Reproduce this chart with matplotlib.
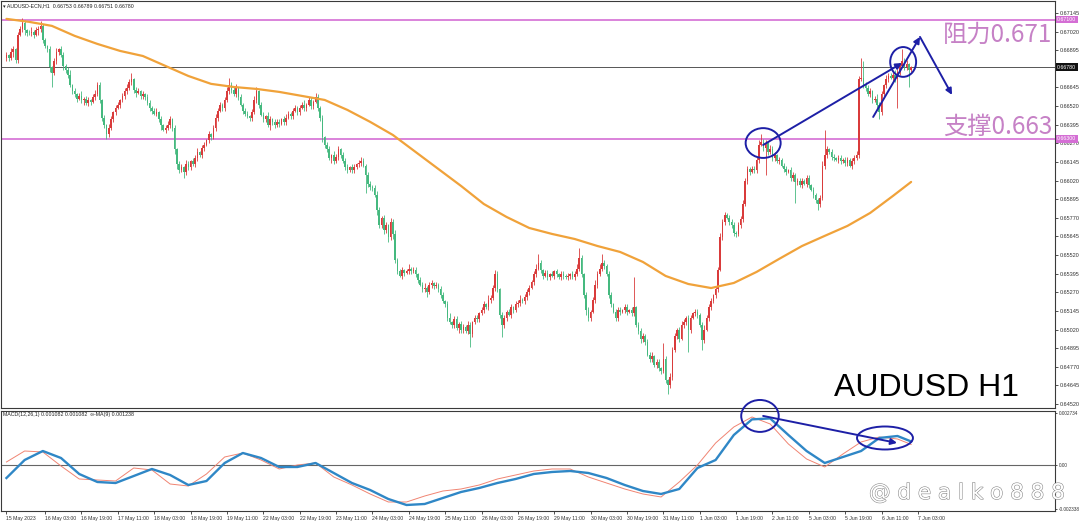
import matplotlib
matplotlib.use("Agg")
import matplotlib.pyplot as plt
from matplotlib.patches import Ellipse
import matplotlib.patheffects as pe
import matplotlib.transforms as mtransforms
import numpy as np

W, H = 1081, 527

# ---------------- data (price in pips, 1e-4) ----------------
first_open = 6684
closes_pips = [
    6686, 6684, 6688, 6690, 6683, 6700, 6704, 6708, 6703, 6701,
    6701, 6702, 6700, 6703, 6704, 6706, 6696, 6692, 6690, 6678,
    6674, 6682, 6688, 6690, 6686, 6679, 6676, 6673, 6666, 6662,
    6660, 6657, 6659, 6656, 6657, 6654, 6656, 6655, 6658, 6660,
    6666, 6656, 6644, 6639, 6633, 6637, 6643, 6648, 6651, 6653,
    6656, 6659, 6662, 6664, 6668, 6670, 6663, 6661, 6662, 6659,
    6660, 6658, 6654, 6651, 6649, 6647, 6648, 6643, 6639, 6636,
    6637, 6639, 6643, 6637, 6623, 6613, 6609, 6611, 6608, 6613,
    6611, 6615, 6613, 6617, 6621, 6619, 6624, 6626, 6629, 6633,
    6631, 6637, 6644, 6649, 6653, 6651, 6656, 6662, 6666, 6663,
    6660, 6664, 6658, 6653, 6649, 6647, 6645, 6644, 6648, 6656,
    6662, 6653, 6646, 6643, 6645, 6639, 6643, 6641, 6639, 6641,
    6640, 6643, 6641, 6644, 6647, 6645, 6649, 6651, 6648, 6651,
    6653, 6651, 6653, 6656, 6652, 6655, 6658, 6651, 6644, 6631,
    6626, 6623, 6617, 6619, 6615, 6618, 6623, 6619, 6615, 6611,
    6609, 6611, 6609, 6611, 6613, 6614, 6615, 6612, 6606, 6600,
    6598, 6597, 6592, 6582, 6572, 6577, 6569, 6572, 6564, 6574,
    6566, 6549, 6541, 6538, 6542, 6540, 6541, 6543, 6541, 6542,
    6539, 6535, 6532, 6529, 6530, 6527, 6532, 6533, 6531, 6532,
    6529, 6525, 6521, 6519, 6510, 6507, 6505, 6509, 6503, 6506,
    6502, 6504, 6501, 6505, 6499, 6507, 6510, 6509, 6513, 6515,
    6519, 6517, 6522, 6523, 6530, 6539, 6529, 6512, 6505, 6510,
    6514, 6512, 6517, 6515, 6519, 6520, 6522, 6521, 6524, 6527,
    6530, 6534, 6539, 6543, 6547, 6542, 6538, 6540, 6537, 6539,
    6538, 6541, 6539, 6537, 6539, 6538, 6537, 6538, 6539, 6537,
    6539, 6543, 6550, 6539, 6525, 6515, 6510, 6514, 6522, 6532,
    6539, 6543, 6547, 6545, 6539, 6525, 6519, 6514, 6510, 6515,
    6514, 6515, 6517, 6514, 6515, 6513, 6517, 6505, 6501, 6496,
    6498, 6494, 6485, 6482, 6484, 6478, 6480, 6476, 6474, 6482,
    6468, 6465, 6470, 6488, 6498, 6502, 6496, 6505, 6507, 6510,
    6502, 6510, 6513, 6514, 6512, 6505, 6495, 6502, 6510, 6517,
    6521, 6525, 6529, 6542, 6564, 6574, 6579, 6577, 6574, 6572,
    6567, 6566, 6572, 6576, 6586, 6602, 6610, 6608, 6610, 6609,
    6616, 6626, 6628, 6624, 6627, 6621, 6623, 6617, 6619, 6615,
    6616, 6612, 6610, 6608, 6609, 6604, 6606, 6601, 6602, 6599,
    6602, 6600, 6604, 6599, 6596, 6592, 6589, 6586, 6590, 6612,
    6619, 6623, 6621, 6618, 6617, 6616, 6617, 6615, 6616, 6614,
    6616, 6612, 6615, 6617, 6619, 6670, 6671, 6666, 6664, 6660,
    6662, 6656, 6657, 6653, 6648, 6660, 6666, 6670, 6672, 6671,
    6673, 6670, 6675, 6679, 6682, 6678, 6680, 6676, 6678,
]
upper_wick_pips = [
    2, 1, 3, 2, 1, 2, 2, 3, 2, 1,
    2, 3, 1, 2, 2, 3, 1, 2, 1, 2,
    1, 2, 3, 1, 2, 2, 1, 2, 3, 1,
    2, 1, 2, 3, 1, 2, 2, 1, 2, 3,
    2, 2, 1, 2, 1, 3, 2, 1, 2, 2,
    1, 2, 2, 3, 2, 4, 1, 2, 2, 1,
    2, 1, 2, 2, 1, 2, 3, 1, 2, 1,
    2, 3, 2, 1, 2, 1, 2, 2, 1, 3,
    2, 1, 2, 2, 3, 1, 2, 2, 1, 2,
    1, 2, 3, 2, 2, 1, 2, 3, 5, 2,
    2, 3, 1, 2, 1, 2, 2, 1, 2, 3,
    3, 1, 2, 2, 1, 3, 2, 1, 2, 2,
    2, 1, 2, 3, 2, 1, 2, 2, 1, 2,
    2, 3, 1, 2, 2, 1, 3, 2, 1, 2,
    1, 2, 2, 1, 3, 2, 2, 1, 2, 2,
    2, 1, 2, 2, 1, 2, 3, 2, 1, 2,
    2, 1, 2, 3, 2, 1, 2, 2, 1, 3,
    2, 3, 1, 2, 2, 1, 2, 3, 1, 2,
    2, 1, 2, 2, 3, 1, 2, 2, 1, 2,
    1, 2, 2, 1, 2, 3, 1, 2, 2, 1,
    2, 2, 1, 3, 2, 1, 2, 2, 1, 2,
    2, 1, 3, 2, 2, 3, 2, 1, 2, 2,
    1, 2, 2, 1, 2, 2, 3, 1, 2, 2,
    2, 1, 2, 3, 6, 2, 1, 2, 2, 1,
    2, 1, 2, 1, 2, 2, 1, 2, 1, 2,
    2, 3, 7, 2, 1, 2, 2, 1, 2, 3,
    2, 3, 6, 2, 1, 2, 2, 1, 2, 2,
    2, 1, 2, 2, 1, 2, 20, 1, 2, 2,
    2, 1, 2, 2, 3, 1, 2, 2, 1, 11,
    2, 1, 3, 2, 2, 1, 2, 3, 2, 1,
    2, 2, 1, 2, 2, 1, 2, 3, 2, 2,
    2, 1, 2, 2, 3, 2, 2, 1, 2, 2,
    2, 1, 2, 2, 3, 2, 2, 1, 2, 2,
    2, 3, 5, 2, 2, 1, 3, 2, 2, 1,
    2, 1, 2, 2, 1, 2, 2, 1, 2, 2,
    2, 1, 2, 2, 1, 2, 2, 1, 2, 3,
    17, 2, 1, 2, 2, 1, 2, 2, 1, 2,
    2, 1, 2, 2, 3, 2, 13, 11, 2, 2,
    2, 1, 2, 3, 2, 2, 1, 3, 2, 2,
    2, 3, 2, 2, 8, 2, 3, 1, 1,
]
lower_wick_pips = [
    2, 2, 1, 3, 2, 2, 1, 2, 3, 2,
    1, 2, 2, 1, 3, 2, 2, 1, 2, 3,
    9, 1, 2, 2, 1, 3, 2, 2, 1, 2,
    2, 2, 1, 2, 3, 1, 2, 2, 1, 2,
    1, 2, 2, 2, 3, 2, 1, 2, 2, 1,
    2, 1, 2, 2, 1, 2, 2, 3, 1, 2,
    2, 2, 1, 2, 2, 1, 2, 2, 3, 1,
    2, 1, 2, 2, 3, 3, 2, 1, 4, 2,
    2, 2, 1, 2, 2, 1, 2, 2, 1, 2,
    2, 1, 2, 2, 1, 2, 2, 1, 2, 2,
    1, 2, 2, 1, 2, 2, 1, 2, 2, 1,
    2, 2, 1, 2, 2, 1, 3, 2, 2, 1,
    2, 1, 2, 2, 1, 2, 2, 1, 2, 2,
    1, 2, 2, 1, 2, 2, 1, 2, 2, 3,
    2, 2, 1, 3, 2, 1, 2, 2, 1, 2,
    2, 1, 2, 2, 1, 2, 2, 1, 12, 2,
    2, 2, 1, 3, 2, 2, 3, 2, 3, 2,
    3, 2, 2, 1, 2, 2, 1, 2, 2, 1,
    2, 2, 1, 2, 2, 3, 1, 2, 2, 1,
    2, 2, 1, 2, 2, 1, 2, 2, 1, 3,
    2, 2, 1, 2, 9, 2, 1, 2, 2, 1,
    2, 1, 2, 2, 1, 2, 2, 2, 8, 2,
    2, 1, 2, 2, 1, 2, 2, 1, 2, 2,
    2, 1, 2, 2, 1, 2, 2, 1, 2, 2,
    1, 2, 2, 1, 2, 2, 1, 2, 2, 1,
    2, 1, 2, 2, 2, 3, 2, 2, 1, 2,
    2, 1, 2, 2, 1, 2, 2, 1, 2, 2,
    2, 1, 2, 2, 1, 2, 2, 1, 2, 3,
    2, 2, 1, 2, 2, 1, 2, 2, 2, 1,
    2, 6, 2, 2, 1, 2, 2, 1, 2, 2,
    15, 2, 1, 2, 2, 1, 7, 2, 1, 2,
    2, 1, 2, 2, 1, 2, 2, 1, 2, 2,
    2, 2, 1, 2, 2, 1, 2, 2, 1, 2,
    2, 2, 1, 2, 18, 2, 1, 2, 2, 1,
    2, 1, 2, 2, 1, 2, 2, 14, 2, 1,
    2, 1, 2, 2, 1, 2, 2, 4, 2, 1,
    2, 2, 1, 2, 2, 1, 2, 2, 1, 2,
    2, 1, 2, 2, 1, 2, 1, 2, 2, 1,
    2, 2, 1, 2, 5, 2, 1, 2, 2, 1,
    2, 2, 19, 2, 1, 2, 2, 11, 1,
]

# moving average (orange), sampled every 10 bars (+ last bar)
ma_idx = list(range(0, 400, 10)) + [398]
ma_pips = [
    6710.5, 6708.5, 6705.8, 6699.1, 6693.7, 6689.0, 6685.6, 6678.9, 6672.2, 6666.9,
    6664.8, 6663.5, 6661.5, 6658.8, 6656.1, 6649.4, 6641.4, 6632.6, 6621.2, 6609.8,
    6598.4, 6586.3, 6577.6, 6570.2, 6566.2, 6562.8, 6558.1, 6554.1, 6547.4, 6538.0,
    6532.6, 6529.9, 6533.3, 6540.7, 6549.5, 6558.1, 6564.9, 6571.6, 6580.3, 6591.7,
    6601.1,
]

# MACD panel (values in 1e-3), sampled every 8 bars (+ last bar)
macd_idx = list(range(0, 393, 8)) + [398]
macd_signal = [
    -0.684, 0.263, 0.736, 0.368, -0.473, -0.894, -0.947, -0.579, -0.210, -0.526,
    -1.052, -0.842, 0.105, 0.631, 0.368, -0.105, -0.105, 0.105, -0.421, -0.947,
    -1.315, -1.788, -2.104, -2.051, -1.736, -1.420, -1.210, -0.947, -0.736, -0.473,
    -0.368, -0.316, -0.421, -0.684, -1.052, -1.368, -1.525, -1.262, -0.158, 0.263,
    1.578, 2.400, 2.450, 1.578, 0.736, 0.105, 0.421, 0.736, 1.420, 1.525,
    1.238,
]
macd_main = [
    0.158, 0.736, 0.684, -0.053, -0.736, -0.789, -0.842, -0.158, -0.263, -1.000,
    -1.105, -0.473, 0.421, 0.631, 0.263, -0.210, 0.000, 0.105, -0.631, -1.052,
    -1.525, -1.946, -1.946, -1.631, -1.368, -1.262, -1.052, -0.736, -0.526, -0.316,
    -0.210, -0.210, -0.631, -0.947, -1.262, -1.525, -1.683, -0.894, 0.000, 1.157,
    1.999, 2.525, 2.157, 1.105, 0.316, -0.105, 0.579, 1.210, 1.473, 1.368,
    1.082,
]

time_labels = ["15 May 2023", "16 May 03:00", "16 May 19:00", "17 May 11:00", "18 May 03:00",
               "18 May 19:00", "19 May 11:00", "22 May 03:00", "22 May 19:00", "23 May 11:00",
               "24 May 03:00", "24 May 19:00", "25 May 11:00", "26 May 03:00", "26 May 19:00",
               "29 May 11:00", "30 May 03:00", "30 May 19:00", "31 May 11:00", "1 Jun 03:00",
               "1 Jun 19:00", "2 Jun 11:00", "5 Jun 03:00", "5 Jun 19:00", "6 Jun 11:00",
               "7 Jun 03:00"]
time_label_bars = [0] + [17 + 16 * k for k in range(25)]

price_ticks = [0.64520, 0.64645, 0.64770, 0.64895, 0.65020, 0.65145, 0.65270, 0.65395,
               0.65520, 0.65645, 0.65770, 0.65895, 0.66020, 0.66145, 0.66270, 0.66395,
               0.66520, 0.66645, 0.66895, 0.67020, 0.67145]
resistance = 0.67100
support = 0.66300
last_price = 0.66780

# ---------------- derived arrays ----------------
c = np.array(closes_pips, dtype=float) / 1e4
o = np.concatenate([[first_open / 1e4], c[:-1]])
hi = np.maximum(o, c) + np.array(upper_wick_pips) / 1e4
lo = np.minimum(o, c) - np.array(lower_wick_pips) / 1e4
x = np.arange(len(c))

RED = "#d93b3b"
GREEN = "#45b97f"
NAVY = "#1d1fa6"
PINK = "#d46ed4"
LABEL_PINK = "#c681c6"

fig = plt.figure(figsize=(W / 100, H / 100), dpi=100)
fig.patch.set_facecolor("white")

def fx(px):
    return px / W

def fy(py):
    return 1 - py / H

left, right = fx(1), fx(1055)
ax = fig.add_axes([left, fy(408), right - left, fy(1) - fy(408)])
ax2 = fig.add_axes([left, fy(511), right - left, fy(411) - fy(511)])

xlim = (-2.4, 461.3)
ax.set_xlim(*xlim)
ax.set_ylim(0.64494, 0.67225)
ax2.set_xlim(*xlim)
ax2.set_ylim(-0.00242, 0.00284)

for a in (ax, ax2):
    a.set_facecolor("white")
    for s in a.spines.values():
        s.set_color("#3a3a3a")
        s.set_linewidth(0.8)

# horizontal levels
ax.axhline(resistance, color=PINK, lw=1.2, zorder=1)
ax.axhline(support, color=PINK, lw=1.2, zorder=1)
ax.axhline(last_price, color="#555555", lw=0.7, zorder=1)

# candles
up = c > o
cols = np.where(up, RED, GREEN)
ax.vlines(x, lo, hi, colors=cols, lw=0.6, zorder=2)
body = np.abs(c - o)
body = np.maximum(body, 0.00003)
ax.bar(x, body, bottom=np.minimum(o, c), width=0.7, color=cols, linewidth=0, zorder=3)

# moving average
ax.plot(ma_idx, np.array(ma_pips) / 1e4, color="#f0a23a", lw=1.6, zorder=4,
        solid_capstyle="round")

# price axis
ax.yaxis.tick_right()
ax.set_yticks(price_ticks)
ax.set_yticklabels([f"{v:.5f}" for v in price_ticks])
ax.tick_params(axis="y", length=2, width=0.6, labelsize=4, pad=1.5, colors="#333333")
ax.set_xticks([])

blend = mtransforms.blended_transform_factory(ax.transAxes, ax.transData)
for val, fc in ((resistance, PINK), (support, PINK), (last_price, "#111111")):
    ax.text(1.002, val, f"{val:.5f}", transform=blend, fontsize=3.8, color="white",
            va="center", ha="left", family="Liberation Sans", clip_on=False, zorder=10,
            bbox=dict(boxstyle="square,pad=0.25", fc=fc, ec="none"))

# MACD
ax2.axhline(0, color="#666666", lw=0.8, zorder=1)
ax2.plot(macd_idx, np.array(macd_signal) / 1e3, color="#2f87c6", lw=1.7, zorder=3)
ax2.plot(macd_idx, np.array(macd_main) / 1e3, color="#f08472", lw=0.7, zorder=2)
ax2.yaxis.tick_right()
ax2.set_yticks([0.002734, 0.0, -0.002338])
ax2.set_yticklabels(["0.002734", "0.00", "-0.002338"])
ax2.tick_params(axis="y", length=1.5, width=0.6, labelsize=3.4, pad=1.0, colors="#333333")
ax2.set_xticks(time_label_bars)
ax2.set_xticklabels(time_labels, ha="left")
ax2.tick_params(axis="x", length=2, width=0.6, labelsize=3.7, pad=1.5, colors="#333333")
for lab in ax2.get_xticklabels() + ax2.get_yticklabels() + ax.get_yticklabels():
    lab.set_family("Liberation Sans")

# header texts
fig.text(fx(3), fy(5.5), "\u25be AUDUSD-ECN,H1  0.66753 0.66789 0.66751 0.66780", fontsize=3.8,
         family=["Liberation Sans", "DejaVu Sans"], color="#222222", va="center")
fig.text(fx(3), fy(414.5), "MACD(12,26,1) 0.001082 0.001082  \u221e-MA(9) 0.001238", fontsize=3.8,
         family=["Liberation Sans", "DejaVu Sans"], color="#222222", va="center")

# big labels
fig.text(fx(834), fy(388), "AUDUSD H1", fontsize=23, family="Liberation Sans",
         color="black", va="center", ha="left")
fig.text(fx(1052), fy(35), "阻力0.671", fontsize=17.5, family=["Noto Sans CJK SC"],
         color=LABEL_PINK, va="center", ha="right")
fig.text(fx(1052), fy(127), "支撑0.663", fontsize=17.5, family=["Noto Sans CJK SC"],
         color=LABEL_PINK, va="center", ha="right")

# watermark
wm = fig.text(fx(1065), fy(493), "@ d e a l k o 8 8 8", fontsize=15.5, family="DejaVu Sans",
              color="white", va="center", ha="right")
wm.set_path_effects([pe.Stroke(linewidth=0.8, foreground="#8a8a8a"), pe.Normal()])

# annotations on price panel
arrow_kw = dict(arrowstyle="-|>", color=NAVY, lw=1.4, mutation_scale=9, shrinkA=0, shrinkB=0)
ax.add_patch(Ellipse((332.9, 0.66272), 15.4, 0.0020, fill=False, ec=NAVY, lw=1.4, zorder=6))
ax.add_patch(Ellipse((394.5, 0.66816), 11.4, 0.0020, fill=False, ec=NAVY, lw=1.4, zorder=6))
ax.annotate("", xy=(394.0, 0.66809), xytext=(332.9, 0.66259), arrowprops=arrow_kw, zorder=6)
ax.annotate("", xy=(401.9, 0.66984), xytext=(381.3, 0.66447), arrowprops=arrow_kw, zorder=6)
ax.annotate("", xy=(416.0, 0.66595), xytext=(401.9, 0.66984), arrowprops=arrow_kw, zorder=6)

# annotations on MACD panel
ax2.add_patch(Ellipse((331.5, 0.00258), 16.5, 0.00168, fill=False, ec=NAVY, lw=1.4,
                      zorder=6, clip_on=False))
ax2.add_patch(Ellipse((386.5, 0.00142), 24.6, 0.00121, fill=False, ec=NAVY, lw=1.4, zorder=6))
ax2.annotate("", xy=(391.8, 0.00116), xytext=(332.9, 0.00258), arrowprops=arrow_kw, zorder=6)

fig.savefig("out.png", dpi=100, facecolor="white")
